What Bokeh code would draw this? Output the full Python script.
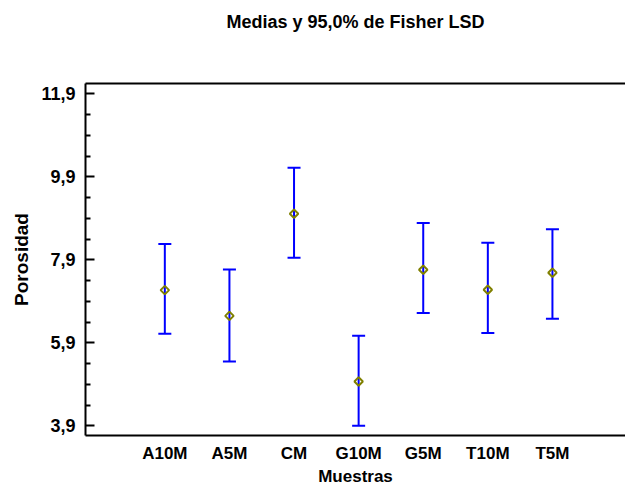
import numpy as np
from bokeh.plotting import figure
from bokeh.models import (ColumnDataSource, Whisker, TeeHead, FixedTicker,
                          CustomJSTickFormatter, LinearAxis, Range1d)
from bokeh.embed import file_html
from bokeh.resources import INLINE

# ---- data ----
title_text = "Medias y 95,0% de Fisher LSD"
categories = ["A10M", "A5M", "CM", "G10M", "G5M", "T10M", "T5M"]
means = [7.17, 6.55, 9.01, 4.97, 7.66, 7.18, 7.59]
lower = [6.12, 5.45, 7.95, 3.90, 6.62, 6.14, 6.48]
upper = [8.28, 7.67, 10.12, 6.07, 8.79, 8.31, 8.64]
y_major = [3.9, 5.9, 7.9, 9.9, 11.9]
y_minor = [4.4, 4.9, 5.4, 6.4, 6.9, 7.4, 8.4, 8.9, 9.4, 10.4, 10.9, 11.4]

FONT = "Liberation Sans"
BLACK = "#000000"
positions = list(range(1, len(categories) + 1))

src = ColumnDataSource(dict(x=positions, mean=means, lower=lower, upper=upper))

p = figure(width=625, height=488, output_backend="svg", toolbar_location=None,
           x_range=Range1d(-0.228, 8.131), y_range=Range1d(3.667, 12.15),
           min_border_left=85, min_border_right=0, min_border_top=83,
           min_border_bottom=52)
p.outline_line_color = None
p.xgrid.visible = False
p.ygrid.visible = False
p.background_fill_color = "white"
p.border_fill_color = "white"

# left axis
ya = p.yaxis[0]
ya.ticker = FixedTicker(ticks=y_major, minor_ticks=y_minor)
ya.formatter = CustomJSTickFormatter(code="return tick.toFixed(1).replace('.', ',');")
ya.axis_line_width = 2
ya.axis_line_color = BLACK
ya.major_tick_in = 9
ya.major_tick_out = 0
ya.minor_tick_in = 5
ya.minor_tick_out = 0
ya.major_tick_line_width = 2
ya.minor_tick_line_width = 2
ya.major_tick_line_color = BLACK
ya.minor_tick_line_color = BLACK
ya.major_label_standoff = 10
ya.major_label_text_font = FONT
ya.major_label_text_font_size = "18px"
ya.major_label_text_font_style = "bold"
ya.major_label_text_color = BLACK
ya.axis_label = "Porosidad"
ya.axis_label_standoff = 6
ya.axis_label_text_font = FONT
ya.axis_label_text_font_size = "19px"
ya.axis_label_text_font_style = "bold"
ya.axis_label_text_color = BLACK

# bottom axis
xa = p.xaxis[0]
xa.ticker = FixedTicker(ticks=positions)
xa.major_label_overrides = {i: c for i, c in zip(positions, categories)}
xa.axis_line_width = 2
xa.axis_line_color = BLACK
xa.major_tick_in = 0
xa.major_tick_out = 0
xa.minor_tick_in = 0
xa.minor_tick_out = 0
xa.major_label_standoff = 8
xa.major_label_text_font = FONT
xa.major_label_text_font_size = "17px"
xa.major_label_text_font_style = "bold"
xa.major_label_text_color = BLACK
xa.axis_label = "Muestras"
xa.axis_label_standoff = 1
xa.axis_label_text_font = FONT
xa.axis_label_text_font_size = "17px"
xa.axis_label_text_font_style = "bold"
xa.axis_label_text_color = BLACK

# top line of the frame, carrying the chart title as its label
top = LinearAxis(ticker=FixedTicker(ticks=[]), axis_line_width=2, axis_line_color=BLACK,
                 major_tick_in=0, major_tick_out=0, minor_tick_in=0, minor_tick_out=0,
                 major_label_standoff=0,
                 axis_label=title_text, axis_label_standoff=52,
                 axis_label_text_font=FONT, axis_label_text_font_size="18px",
                 axis_label_text_font_style="bold", axis_label_text_color=BLACK)
p.add_layout(top, "above")

blue = "#0000FF"
w = Whisker(base="x", lower="lower", upper="upper", source=src,
            line_color=blue, line_width=2,
            lower_head=TeeHead(size=13, line_color=blue, line_width=2),
            upper_head=TeeHead(size=13, line_color=blue, line_width=2))
p.add_layout(w)

p.scatter("x", "mean", source=src, marker="square", angle=np.pi / 4, size=6,
          fill_color=None, line_color="#808000", line_width=2)

open("out.html", "w").write(file_html(p, INLINE))
